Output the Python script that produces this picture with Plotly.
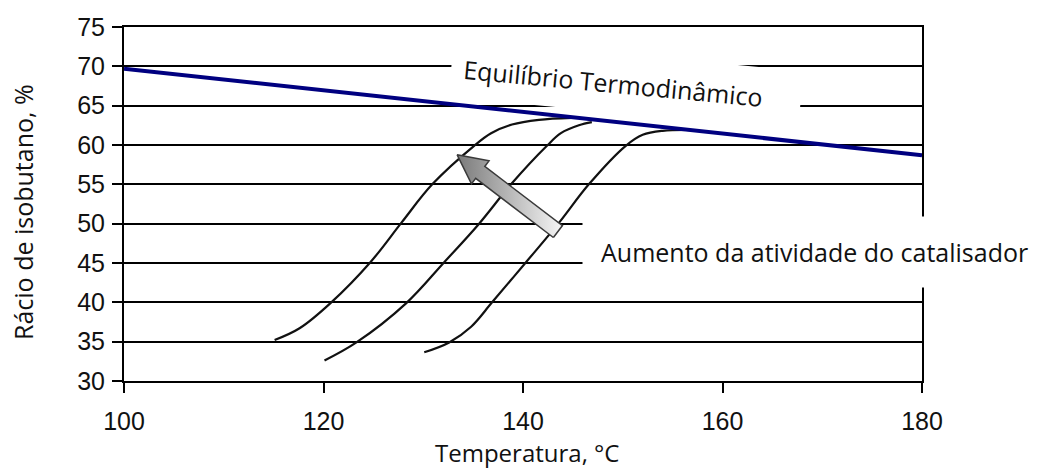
import math
import plotly.graph_objects as go

# ---- data ----
eq_T = [100, 145, 180]
eq_val = [69.7, 63.5, 58.7]

c1_T = [115.1, 117.6, 120.7, 124.7, 127.8, 130.9, 135.1, 136.8, 138.9, 141.6, 144.9]
c1_val = [35.2, 36.7, 39.9, 45.1, 50.1, 55.0, 59.9, 61.5, 62.6, 63.2, 63.45]

c2_T = [120.1, 123.3, 128.3, 132.1, 135.6, 138.8, 142.4, 143.8, 145.6, 146.9]
c2_val = [32.6, 34.9, 39.9, 45.1, 50.0, 55.0, 59.9, 61.5, 62.5, 62.9]

c3_T = [130.1, 132.6, 134.8, 136.9, 140.3, 143.6, 146.6, 150.3, 152.0, 154.0, 157.1]
c3_val = [33.65, 34.9, 36.9, 40.0, 45.1, 50.1, 55.0, 59.9, 61.3, 61.8, 61.9]

arrow_tail = (143.5, 49.0)
arrow_head = (133.4, 58.75)

x_ticks = [100, 120, 140, 160, 180]
y_ticks = [30, 35, 40, 45, 50, 55, 60, 65, 70, 75]

x_title = "Temperatura, °C"
y_title = "Rácio de isobutano, %"

# ---- layout geometry ----
W, H = 1039, 470
ML, MR, MT, MB = 124, 117, 27, 89
XR = [100, 180]
YR = [30, 75]
pxx = (W - ML - MR) / (XR[1] - XR[0])
pxy = (H - MT - MB) / (YR[1] - YR[0])

def to_px(p):
    return ((p[0] - XR[0]) * pxx, (p[1] - YR[0]) * pxy)

def to_data(q):
    return (q[0] / pxx + XR[0], q[1] / pxy + YR[0])

# arrow polygon (block arrow)
t = to_px(arrow_tail)
h = to_px(arrow_head)
dx, dy = h[0] - t[0], h[1] - t[1]
L = math.hypot(dx, dy)
ux, uy = dx / L, dy / L
nx, ny = -uy, ux
sw, hw, hl = 7.5, 14.5, 29
bx, by = h[0] - ux * hl, h[1] - uy * hl
poly_px = [
    (t[0] + nx * sw, t[1] + ny * sw),
    (bx + nx * sw, by + ny * sw),
    (bx + nx * hw, by + ny * hw),
    h,
    (bx - nx * hw, by - ny * hw),
    (bx - nx * sw, by - ny * sw),
    (t[0] - nx * sw, t[1] - ny * sw),
    (t[0] + nx * sw, t[1] + ny * sw),
]
poly = [to_data(q) for q in poly_px]
ax_x = [p[0] for p in poly]
ax_y = [p[1] for p in poly]

fig = go.Figure()

for xs, ys in [(c1_T, c1_val), (c2_T, c2_val), (c3_T, c3_val)]:
    fig.add_trace(go.Scatter(x=xs, y=ys, mode="lines",
                             line=dict(color="#111111", width=2.2, shape="spline", smoothing=1.0),
                             hoverinfo="skip", showlegend=False))

fig.add_trace(go.Scatter(x=eq_T, y=eq_val, mode="lines",
                         line=dict(color="#000080", width=4),
                         showlegend=False))

fig.add_trace(go.Scatter(
    x=ax_x, y=ax_y, mode="lines", fill="toself",
    line=dict(color="#3a3a3a", width=1.5),
    fillgradient=dict(type="horizontal", start=min(ax_x), stop=max(ax_x),
                      colorscale=[[0, "#7a7a7a"], [1, "#f6f6f6"]]),
    hoverinfo="skip", showlegend=False))

fig.add_annotation(x=150.3, y=67.75, xref="x", yref="y",
                   text="Equilíbrio Termodinâmico\u00a0\u00a0\u00a0\u00a0", showarrow=False,
                   textangle=5.4, bgcolor="white", borderpad=12,
                   font=dict(family="Open Sans", size=25, color="#111111"))

fig.add_annotation(x=169.2, y=46.4, xref="x", yref="y",
                   text="Aumento da atividade do catalisador", showarrow=False,
                   bgcolor="white", borderpad=18,
                   font=dict(family="Open Sans", size=25, color="#111111"))

# axis titles (placed as annotations for exact positioning)
fig.add_annotation(x=0.505, y=-(453 - 381) / 354, xref="paper", yref="paper",
                   xanchor="center", yanchor="middle", text=x_title, showarrow=False,
                   font=dict(family="Open Sans", size=24, color="#111111"))
fig.add_annotation(x=-(124 - 23) / 798, y=(381 - 212) / 354, xref="paper", yref="paper",
                   xanchor="center", yanchor="middle", text=y_title, showarrow=False,
                   textangle=-90,
                   font=dict(family="Open Sans", size=25, color="#111111"))

fig.update_xaxes(range=XR, tickvals=x_ticks, ticks="outside", ticklen=10, tickwidth=2,
                 tickcolor="black", showline=True, linewidth=2, linecolor="black",
                 mirror=True, showgrid=False, zeroline=False, ticklabelstandoff=7,
                 automargin=False,
                 tickfont=dict(family="Liberation Sans", size=25, color="#111111"))
fig.update_yaxes(range=YR, tickvals=y_ticks, ticks="outside", ticklen=10, tickwidth=2,
                 tickcolor="black", showline=True, linewidth=2, linecolor="black",
                 mirror=True, showgrid=True, gridcolor="black", gridwidth=2, zeroline=False,
                 ticklabelstandoff=2, automargin=False,
                 tickfont=dict(family="Liberation Sans", size=25, color="#111111"))

fig.update_layout(width=W, height=H, autosize=False,
                  margin=dict(l=ML, r=MR, t=MT, b=MB),
                  plot_bgcolor="white", paper_bgcolor="white", showlegend=False)

fig.write_html("out.html")
